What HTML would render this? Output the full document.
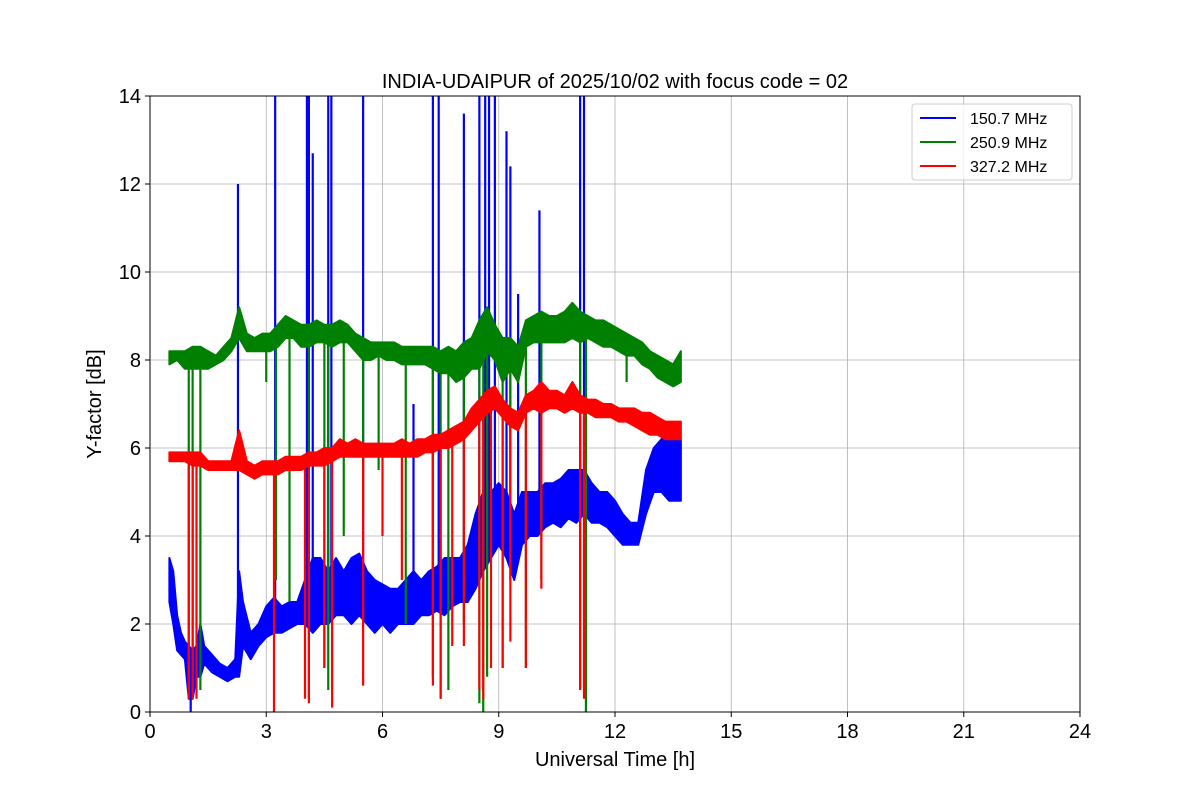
<!DOCTYPE html>
<html><head><meta charset="utf-8">
<style>
html,body{margin:0;padding:0;background:#fff;}
svg text{font-family:"Liberation Sans","DejaVu Sans",sans-serif;}
</style></head>
<body>
<svg id="chart" width="1200" height="800" viewBox="0 0 1200 800" xmlns="http://www.w3.org/2000/svg">
<rect width="1200" height="800" fill="#fff"/>
<g id="grid"></g>
<g id="series"></g>
<rect x="150" y="96" width="930" height="616" fill="none" stroke="#000" stroke-width="1"/>
<g id="axes"></g>
<text x="615" y="88" text-anchor="middle" font-size="20">INDIA-UDAIPUR of 2025/10/02 with focus code = 02</text>
<text x="615" y="766" text-anchor="middle" font-size="20">Universal Time [h]</text>
<text x="101" y="404" text-anchor="middle" font-size="20" transform="rotate(-90 101 404)">Y-factor [dB]</text>
<g id="legend">
<rect x="912" y="104" width="160" height="76" rx="3" fill="#fff" fill-opacity="0.8" stroke="#ccc"/>
</g>
</svg>
<script>
const xTicks=[0,3,6,9,12,15,18,21,24];
const yTicks=[0,2,4,6,8,10,12,14];
const seriesNames=["150.7 MHz","250.9 MHz","327.2 MHz"];
const seriesColors=["#0000ff","#008000","#ff0000"];
const blueT=[0.5,0.6,0.7,0.8,0.9,1.0,1.1,1.2,1.3,1.4,1.6,1.8,2.0,2.2,2.3,2.4,2.6,2.8,3.0,3.2,3.4,3.6,3.8,4.0,4.2,4.4,4.6,4.8,5.0,5.2,5.4,5.6,5.8,6.0,6.2,6.4,6.6,6.8,7.0,7.2,7.4,7.6,7.8,8.0,8.2,8.4,8.6,8.8,9.0,9.2,9.4,9.6,9.8,10.0,10.2,10.4,10.6,10.8,11.0,11.2,11.4,11.6,11.8,12.0,12.2,12.4,12.6,12.8,13.0,13.2,13.4,13.6,13.7];
const blueMin=[2.5,2.0,1.4,1.3,1.2,0.3,0.3,0.8,0.8,1.1,0.9,0.8,0.7,0.8,0.8,1.5,1.2,1.5,1.7,1.8,1.8,1.9,2.0,2.0,1.8,2.0,2.0,2.2,2.2,2.0,2.2,2.0,1.8,2.0,1.8,2.0,2.0,2.0,2.2,2.2,2.3,2.2,2.4,2.5,2.5,2.8,3.2,3.5,3.8,3.5,3.0,3.8,4.0,4.0,4.2,4.3,4.2,4.4,4.3,4.5,4.3,4.3,4.2,4.0,3.8,3.8,3.8,4.5,5.0,5.0,4.8,4.8,4.8];
const blueMax=[3.5,3.2,2.2,1.8,1.6,1.5,1.4,1.5,2.0,1.5,1.3,1.1,1.0,1.2,3.2,2.5,1.8,2.0,2.4,2.6,2.4,2.5,2.5,3.0,3.5,3.5,3.2,3.5,3.2,3.5,3.6,3.2,3.0,2.9,2.8,2.8,3.0,3.2,3.0,3.2,3.3,3.5,3.5,3.5,3.8,4.5,5.0,5.0,5.2,5.0,4.5,5.0,5.0,5.0,5.2,5.2,5.3,5.5,5.5,5.5,5.2,5.0,5.0,4.8,4.5,4.3,4.3,5.5,6.0,6.2,6.5,6.5,6.2];
const blueSpikeT=[1.05,2.27,3.23,4.05,4.1,4.2,4.6,4.68,5.5,6.8,7.3,7.45,8.1,8.5,8.65,8.75,8.9,9.2,9.3,9.5,10.05,11.1,11.2];
const blueSpikeV=[0,12,14,14,14,12.7,14,14,14,7,14,14,13.6,14,14,14,14,13.2,12.4,9.5,11.4,14,14];
const greenT=[0.5,0.7,0.9,1.1,1.3,1.5,1.7,1.9,2.1,2.3,2.5,2.7,2.9,3.1,3.3,3.5,3.7,3.9,4.1,4.3,4.5,4.7,4.9,5.1,5.3,5.5,5.7,5.9,6.1,6.3,6.5,6.7,6.9,7.1,7.3,7.5,7.7,7.9,8.1,8.3,8.5,8.7,8.9,9.1,9.3,9.5,9.7,9.9,10.1,10.3,10.5,10.7,10.9,11.1,11.3,11.5,11.7,11.9,12.1,12.3,12.5,12.7,12.9,13.1,13.3,13.5,13.7];
const greenMin=[7.9,8.0,7.8,7.8,7.8,7.8,7.9,8.0,8.2,8.5,8.2,8.2,8.2,8.2,8.3,8.5,8.5,8.3,8.3,8.4,8.4,8.3,8.4,8.4,8.2,8.0,8.0,8.1,8.0,8.0,7.9,7.9,7.9,7.9,7.8,7.7,7.7,7.5,7.6,7.8,7.8,8.2,8.0,7.5,7.8,7.5,8.3,8.4,8.4,8.4,8.4,8.4,8.5,8.4,8.5,8.4,8.3,8.3,8.2,8.1,8.1,7.9,7.8,7.6,7.5,7.4,7.5];
const greenMax=[8.2,8.2,8.2,8.3,8.3,8.2,8.1,8.3,8.5,9.2,8.6,8.5,8.6,8.6,8.8,9.0,8.9,8.8,8.8,8.9,8.8,8.8,8.9,8.8,8.6,8.5,8.4,8.4,8.4,8.4,8.3,8.3,8.3,8.3,8.3,8.2,8.3,8.2,8.4,8.5,8.9,9.2,8.8,8.5,8.5,8.3,8.9,9.0,9.1,9.0,9.0,9.1,9.3,9.1,9.0,8.9,8.9,8.8,8.7,8.6,8.5,8.4,8.2,8.1,8.0,7.9,8.2];
const greenSpikeT=[1.0,1.1,1.3,3.0,3.25,3.6,4.1,4.5,4.6,5.0,5.5,5.9,6.6,7.3,7.5,7.7,8.1,8.5,8.6,8.7,9.1,9.3,9.7,10.1,11.1,11.25,12.3];
const greenSpikeV=[0.3,0.3,0.5,7.5,3,2.5,0.3,1,0.5,4,4.5,5.5,2,0.8,0.3,0.5,2,0.2,0,0.8,1,3,1,3,0.5,0,7.5];
const redT=greenT;
const redMin=[5.7,5.7,5.7,5.6,5.6,5.5,5.5,5.5,5.5,5.5,5.4,5.3,5.4,5.4,5.4,5.5,5.5,5.5,5.6,5.6,5.6,5.7,5.8,5.8,5.8,5.8,5.8,5.8,5.8,5.8,5.8,5.8,5.8,5.9,5.9,6.0,6.0,6.1,6.2,6.4,6.6,6.8,6.9,6.7,6.5,6.4,6.8,6.9,6.8,6.9,6.9,6.8,6.9,6.8,6.8,6.7,6.7,6.7,6.6,6.6,6.5,6.4,6.3,6.3,6.2,6.2,6.2];
const redMax=[5.9,5.9,5.9,5.9,5.9,5.7,5.7,5.7,5.7,6.4,5.7,5.6,5.7,5.7,5.7,5.8,5.8,5.8,5.9,5.9,6.0,6.0,6.2,6.1,6.2,6.1,6.1,6.1,6.1,6.1,6.2,6.1,6.2,6.2,6.3,6.3,6.4,6.5,6.6,6.9,7.1,7.3,7.4,7.1,6.9,6.8,7.2,7.3,7.5,7.3,7.3,7.2,7.5,7.2,7.1,7.1,7.0,7.0,6.9,6.9,6.9,6.8,6.8,6.7,6.6,6.6,6.6];
const redSpikeT=[1.0,1.1,1.2,3.2,4.0,4.1,4.5,4.7,5.5,6.0,6.5,7.3,7.5,7.8,8.1,8.5,8.6,8.8,9.1,9.3,9.7,10.1,11.1,11.2];
const redSpikeV=[0.3,0.3,0.3,0,0.3,0.2,1.0,0.1,0.6,4,3,0.6,0.3,1.5,1.5,0.5,0.3,1,1,1.6,1,2.8,0.5,0.3];

const NS="http://www.w3.org/2000/svg";
const X0=150,X1=1080,Y0=712,Y1=96;
const xs=v=>X0+(v-0)/(24-0)*(X1-X0);
const ys=v=>Y0-(v-0)/(14-0)*(Y0-Y1);
function mk(tag,attrs,parent){const e=document.createElementNS(NS,tag);for(const k in attrs)e.setAttribute(k,attrs[k]);parent.appendChild(e);return e;}
const grid=document.getElementById('grid'),axes=document.getElementById('axes'),ser=document.getElementById('series');
xTicks.forEach(t=>{
 const g=mk('line',{x1:xs(t),x2:xs(t),y1:Y1,y2:Y0,stroke:'#b0b0b0','stroke-width':0.8},grid);
 
 
 mk('line',{x1:xs(t),x2:xs(t),y1:Y0,y2:Y0+5,stroke:'#000'},axes);
 const tx=mk('text',{x:xs(t),y:Y0+26,'text-anchor':'middle','font-size':20},axes);tx.textContent=t;
 
 
});
yTicks.forEach(t=>{
 const g=mk('line',{x1:X0,x2:X1,y1:ys(t),y2:ys(t),stroke:'#b0b0b0','stroke-width':0.8},grid);
 
 
 mk('line',{x1:X0-5,x2:X0,y1:ys(t),y2:ys(t),stroke:'#000'},axes);
 const tx=mk('text',{x:X0-9,y:ys(t)+7,'text-anchor':'end','font-size':20},axes);tx.textContent=t;
 
 
});
function band(T,mn,mx,sT,sV,color,name){
 const g=mk('g',{},ser);
 
 
 let pts=T.map((t,i)=>xs(t)+','+ys(mx[i]));
 for(let i=T.length-1;i>=0;i--)pts.push(xs(T[i])+','+ys(mn[i]));
 mk('polygon',{points:pts.join(' '),fill:color,stroke:color,'stroke-width':2,'stroke-linejoin':'round'},g);
 sT.forEach((t,i)=>{
  let j=0;for(let k=0;k<T.length;k++)if(Math.abs(T[k]-t)<Math.abs(T[j]-t))j=k;
  const base=(mn[j]+mx[j])/2;
  const l=mk('line',{x1:xs(t),x2:xs(t),y1:ys(base),y2:ys(sV[i]),stroke:color,'stroke-width':2.2},g);
  
  
 });
}
band(blueT,blueMin,blueMax,blueSpikeT,blueSpikeV,seriesColors[0],'series-150-7-mhz');
band(greenT,greenMin,greenMax,greenSpikeT,greenSpikeV,seriesColors[1],'series-250-9-mhz');
band(redT,redMin,redMax,redSpikeT,redSpikeV,seriesColors[2],'series-327-2-mhz');
const lg=document.getElementById('legend');
seriesNames.forEach((n,i)=>{
 const y=118+i*24;
 const l=mk('line',{x1:920,x2:956,y1:y,y2:y,stroke:seriesColors[i],'stroke-width':2},lg);
 
 
 const t=mk('text',{x:970,y:y+6,'font-size':16},lg);t.textContent=n;
 
 
});
</script>
</body></html>
